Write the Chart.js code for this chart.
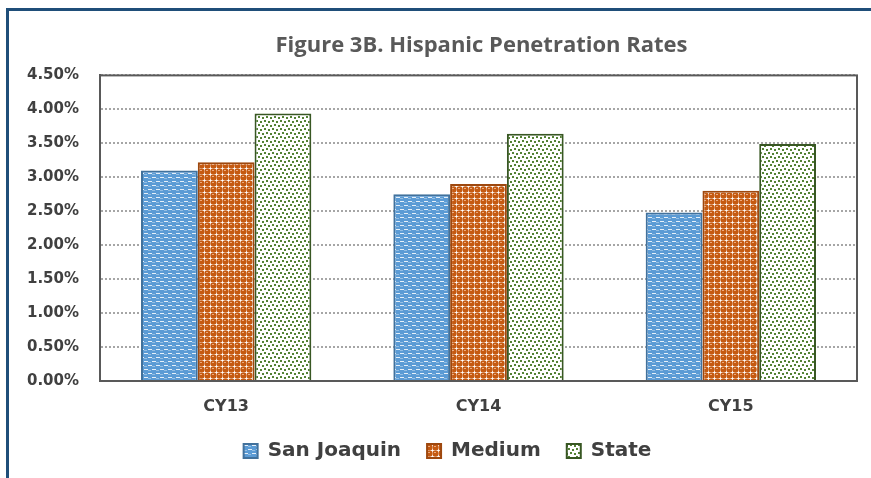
<!DOCTYPE html>
<html>
<head>
<meta charset="utf-8">
<script src="https://cdn.jsdelivr.net/npm/chart.js@4.4.1/dist/chart.umd.min.js"></script>
<style>
    html, body { margin: 0; padding: 0; background: #fff; }
    #wrap { position: relative; width: 871px; height: 478px; }
    #frame {
        position: absolute; left: 6px; top: 8px; right: 0; bottom: 0;
        border-top: 3px solid #1F4E79; border-left: 3px solid #1F4E79;
        pointer-events: none;
    }
</style>
</head>
<body>
<div id="wrap">
    <canvas id="penetrationChart"></canvas>
    <div id="frame"></div>
</div>
<script>
const years = ['CY13', 'CY14', 'CY15'];
const sanJoaquin = [3.10, 2.75, 2.48];
const medium = [3.22, 2.90, 2.80];
const state = [3.94, 3.64, 3.49];

// little tiles that mimic the Excel fill patterns
function makePattern(size, draw) {
    const c = document.createElement('canvas');
    c.width = size;
    c.height = size;
    const g = c.getContext('2d');
    draw(g);
    return g.createPattern(c, 'repeat');
}

const blueDash = makePattern(8, function(g) {
    g.fillStyle = '#5B9BD5';
    g.fillRect(0, 0, 8, 8);
    g.fillStyle = 'rgba(255,255,255,0.85)';
    g.fillRect(0, 1, 4, 1);
    g.fillRect(4, 5, 4, 1);
    g.fillStyle = 'rgba(255,255,255,0.35)';
    g.fillRect(4, 2, 3, 1);
    g.fillRect(0, 6, 3, 1);
});

const orangeSphere = makePattern(6, function(g) {
    g.fillStyle = '#ffffff';
    g.fillRect(0, 0, 6, 6);
    g.fillStyle = '#C55A11';
    g.beginPath();
    g.arc(3.5, 3.5, 3.2, 0, Math.PI * 2);
    g.fill();
    g.fillStyle = 'rgba(240,180,140,0.9)';
    g.fillRect(2, 2, 2, 1);
});

const greenConfetti = makePattern(8, function(g) {
    g.fillStyle = '#ffffff';
    g.fillRect(0, 0, 8, 8);
    g.fillStyle = '#548235';
    g.fillRect(0, 0, 2, 2);
    g.fillRect(4, 1, 2, 2);
    g.fillRect(2, 4, 2, 2);
    g.fillRect(6, 5, 2, 2);
});

const plotBorder = {
    id: 'plotBorder',
    afterLayout(chart) {
        // centre the title over the plot area, like Excel does
        const t = chart.titleBlock;
        if (t) {
            t.left = chart.chartArea.left + 3;
            t.right = chart.chartArea.right + 3;
        }
        const lg = chart.legend;
        if (lg) {
            lg.left += 8;
            lg.right += 8;
        }
    },
    afterDatasetsDraw(chart) {
        const a = chart.chartArea;
        const ctx = chart.ctx;
        ctx.save();
        ctx.strokeStyle = '#595959';
        ctx.lineWidth = 2;
        ctx.strokeRect(a.left, a.top, a.right - a.left, a.bottom - a.top);
        ctx.restore();
    }
};

const ctx = document.getElementById('penetrationChart').getContext('2d');
const chart = new Chart(ctx, {
    type: 'bar',
    data: {
        labels: years,
        datasets: [{
            label: 'San Joaquin',
            data: sanJoaquin,
            backgroundColor: blueDash,
            borderColor: '#41719C',
            borderWidth: 2
        }, {
            label: 'Medium',
            data: medium,
            backgroundColor: orangeSphere,
            borderColor: '#9E480E',
            borderWidth: 2
        }, {
            label: 'State',
            data: state,
            backgroundColor: greenConfetti,
            borderColor: '#385723',
            borderWidth: 2
        }]
    },
    options: {
        responsive: true,
        maintainAspectRatio: false,
        animation: false,
        datasets: {
            bar: {
                barPercentage: 1,
                categoryPercentage: 0.675
            }
        },
        layout: {
            padding: { left: 22, right: 14, top: 33, bottom: 7 }
        },
        plugins: {
            title: {
                display: true,
                text: 'Figure 3B. Hispanic Penetration Rates',
                color: '#595959',
                font: { family: "'Open Sans', sans-serif", size: 22, weight: 'bold' },
                padding: { top: 0, bottom: 16 }
            },
            legend: {
                position: 'bottom',
                labels: {
                    boxWidth: 14,
                    boxHeight: 14,
                    padding: 26,
                    color: '#404040',
                    font: { family: "'DejaVu Sans', sans-serif", size: 20, weight: 'bold' }
                }
            },
            tooltip: { enabled: false }
        },
        scales: {
            x: {
                grid: { display: false, drawTicks: false },
                border: { color: '#595959', width: 2 },
                ticks: {
                    padding: 16,
                    color: '#404040',
                    font: { family: "'DejaVu Sans', sans-serif", size: 16, weight: 'bold' }
                },
                afterFit: function(axis) {
                    axis.height = 34;
                }
            },
            y: {
                min: 0,
                max: 4.5,
                grid: {
                    color: '#A6A6A6',
                    lineWidth: 2,
                    drawTicks: false
                },
                border: { color: '#595959', width: 2, dash: [2, 2] },
                ticks: {
                    stepSize: 0.5,
                    padding: 21,
                    color: '#404040',
                    font: { family: "'DejaVu Sans', sans-serif", size: 15, weight: 'bold' },
                    callback: function(value) {
                        return value.toFixed(2) + '%';
                    }
                },
                afterFit: function(axis) {
                    axis.width = 78;
                }
            }
        }
    },
    plugins: [plotBorder]
});
</script>
</body>
</html>
